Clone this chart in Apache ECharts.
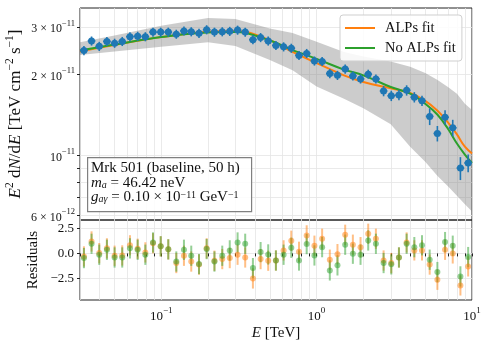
<!DOCTYPE html>
<html>
<head>
<meta charset="utf-8">
<script src="https://cdn.jsdelivr.net/npm/echarts@6/dist/echarts.min.js"></script>
<style>
html,body{margin:0;padding:0;background:#fff;}
#chart{width:489px;height:347px;}
</style>
</head>
<body>
<div id="chart"></div>
<script>
// bin centres [TeV]
var energy = [0.0318,0.0356,0.0399,0.0447,0.0501,0.0561,0.0629,0.0705,0.0790,0.0885,
  0.0992,0.111,0.125,0.140,0.156,0.175,0.196,0.220,0.247,0.276,
  0.310,0.347,0.389,0.436,0.488,0.547,0.613,0.687,0.770,0.863,
  0.968,1.085,1.216,1.362,1.527,1.711,1.917,2.148,2.407,2.698,
  3.023,3.387,3.796,4.254,4.767,5.342,5.986,6.708,7.517,8.423,9.446];
// E^2 dN/dE in units of 1e-11 TeV cm-2 s-1
var flux = [2.46,2.67,2.55,2.66,2.62,2.66,2.77,2.78,2.77,2.88,
  2.88,2.88,2.83,2.91,2.89,2.85,2.94,2.88,2.89,2.90,
  2.93,2.88,2.70,2.75,2.67,2.57,2.54,2.51,2.36,2.40,
  2.25,2.24,2.02,1.99,2.10,1.98,1.93,2.01,1.93,1.74,
  1.67,1.68,1.75,1.65,1.60,1.40,1.21,1.39,1.27,0.90,0.94];
var fluxErr = [0.096,0.104,0.100,0.104,0.102,0.104,0.108,0.108,0.108,0.112,
  0.112,0.112,0.110,0.114,0.113,0.111,0.115,0.112,0.113,0.113,
  0.114,0.112,0.105,0.107,0.104,0.100,0.099,0.098,0.092,0.094,
  0.088,0.087,0.079,0.078,0.082,0.077,0.075,0.078,0.075,0.077,
  0.074,0.074,0.077,0.073,0.071,0.100,0.080,0.086,0.090,0.088,0.071];
var halfBinDex = 0.0247; // half bin width in log10(E)

// fit curves and band
var curveEnergy = [0.03,0.05,0.1,0.2,0.3,0.5,0.7,1,1.5,2,3,4,5,6,7,8,9,10];
var alpsFit   = [2.44,2.58,2.76,2.89,2.91,2.69,2.43,2.21,1.99,1.88,1.78,1.71,1.60,1.47,1.33,1.20,1.08,1.02];
var noAlpsFit = [2.46,2.59,2.76,2.87,2.88,2.68,2.47,2.29,2.09,1.99,1.80,1.70,1.56,1.42,1.26,1.11,1.01,0.94];
var bandUpper = [2.64,2.80,3.04,3.25,3.22,2.97,2.86,2.65,2.43,2.34,2.24,2.14,2.03,1.91,1.80,1.70,1.56,1.48];
var bandLower = [2.37,2.44,2.54,2.64,2.56,2.27,2.08,1.81,1.63,1.50,1.31,1.08,0.95,0.84,0.77,0.71,0.66,0.62];

// residuals
var alpsResid = [-0.3,1.18,0.03,0.5,-0.23,-0.2,0.8,0.46,0.1,1.0,
  0.7,0.4,-0.95,-0.23,-0.8,-1.1,0.5,-0.72,-0.56,-0.46,
  -0.13,-0.4,-2.47,-0.56,-0.72,-0.7,0.3,1.25,0.16,1.78,
  0.76,1.45,-0.62,-0.07,1.84,0.86,0.62,1.94,1.45,-0.7,
  -0.95,-0.4,1.08,0.3,0.3,-1.1,-2.6,0.36,0.0,-3.16,-1.28];
var noAlpsResid = [-0.46,0.95,-0.13,0.36,-0.4,-0.4,0.5,0.36,-0.13,1.08,
  0.7,0.4,-0.8,0.36,-0.23,-1.05,0.43,-0.8,-0.23,0.3,
  1.08,0.95,-1.45,0.13,-0.1,-0.7,-0.13,0.56,-0.7,0.92,
  -0.2,0.62,-1.68,-1.18,0.86,-0.03,-0.13,1.28,0.95,-0.95,
  -1.08,-0.4,0.95,0.62,0.8,-0.62,-1.84,1.12,0.76,-2.27,-0.36];
var residErr = 1;

// ticks
var xGridValues = [0.03,0.04,0.05,0.06,0.07,0.08,0.09,0.1,0.2,0.3,0.4,0.5,0.6,0.7,0.8,0.9,1,2,3,4,5,6,7,8,9,10];
var xLabelValues = [0.1,1,10];
var xLabelExp = ['\u22121','0','1'];
var yGridValues = [0.6,0.7,0.8,0.9,1,2,3];
var yLabelValues = [0.6,1,2,3];
var yLabelMant = ['6 \u00d7 ','','2 \u00d7 ','3 \u00d7 '];
var yLabelExp = ['\u221212','\u221211','\u221211','\u221211'];
var residTicks = [-2.5,0,2.5];

var SERIF = 'Liberation Serif, DejaVu Serif, serif';
var BLUE = '#1f77b4', ORANGE = '#ff7f0e', GREEN = '#2ca02c';

function findIdx(arr, v) {
    for (var i = 0; i < arr.length; i++) {
        if (Math.abs(Math.log10(arr[i]) - Math.log10(v)) < 1e-6) return i;
    }
    return -1;
}

var supRich = {
    b: {fontFamily: SERIF, fontSize: 12, color: '#111', lineHeight: 16, verticalAlign: 'bottom'},
    e: {fontFamily: SERIF, fontSize: 8.5, color: '#111', lineHeight: 16, verticalAlign: 'top'}
};

var blueData = energy.map(function (e, i) {
    return [e, flux[i] - fluxErr[i], flux[i] + fluxErr[i],
        e * Math.pow(10, -halfBinDex), e * Math.pow(10, halfBinDex), flux[i]];
});
function residData(arr) {
    return energy.map(function (e, i) { return [e, arr[i] - residErr, arr[i] + residErr]; });
}

function errorBars(color, width, withX) {
    return function (params, api) {
        var x = api.value(0);
        var p1 = api.coord([x, api.value(1)]);
        var p2 = api.coord([x, api.value(2)]);
        var children = [{
            type: 'line',
            shape: {x1: p1[0], y1: p1[1], x2: p2[0], y2: p2[1]},
            style: {stroke: color, lineWidth: width}
        }];
        if (withX) {
            var q1 = api.coord([api.value(3), api.value(5)]);
            var q2 = api.coord([api.value(4), api.value(5)]);
            children.push({
                type: 'line',
                shape: {x1: q1[0], y1: q1[1], x2: q2[0], y2: q2[1]},
                style: {stroke: color, lineWidth: width}
            });
        }
        return {type: 'group', children: children};
    };
}

var gridLine = {show: true, lineStyle: {color: '#e4e4e4', width: 0.8}};

var chart = echarts.init(document.getElementById('chart'));
chart.setOption({
    animation: false,
    backgroundColor: '#fff',
    grid: [
        {left: 80, top: 8, width: 392, height: 212, show: true, borderColor: '#222', borderWidth: 1, backgroundColor: 'transparent'},
        {left: 80, top: 220, width: 392, height: 80, show: true, borderColor: '#222', borderWidth: 1, backgroundColor: 'transparent'}
    ],
    legend: {
        data: ['ALPs fit', 'No ALPs fit'],
        orient: 'vertical',
        left: 340, top: 15,
        icon: 'rect',
        padding: [5, 6, 5, 5],
        itemWidth: 30, itemHeight: 2, itemGap: 4,
        backgroundColor: 'rgba(255,255,255,0.85)',
        borderColor: '#cfcfcf', borderWidth: 1, borderRadius: 3,
        textStyle: {fontFamily: SERIF, fontSize: 14.5, color: '#111', padding: [0, 0, 0, 5], lineHeight: 16}
    },
    xAxis: [
        {type: 'log', gridIndex: 0, min: 0.03, max: 10,
            axisLine: {show: false},
            axisTick: {show: false, customValues: xGridValues},
            axisLabel: {show: false},
            splitLine: gridLine},
        {type: 'log', gridIndex: 1, min: 0.03, max: 10,
            axisLine: {show: false},
            axisTick: {show: true, inside: false, length: 3, customValues: xGridValues, lineStyle: {color: '#222'}},
            axisLabel: {show: true, margin: 6, customValues: xLabelValues,
                formatter: function (v) {
                    var i = findIdx(xLabelValues, v);
                    return i < 0 ? '' : '{b|10}{e|' + xLabelExp[i] + '}';
                },
                rich: {
                    b: {fontFamily: SERIF, fontSize: 13, color: '#111', lineHeight: 17, verticalAlign: 'bottom'},
                    e: {fontFamily: SERIF, fontSize: 9, color: '#111', lineHeight: 17, verticalAlign: 'top'}
                }},
            splitLine: gridLine}
    ],
    yAxis: [
        {type: 'log', gridIndex: 0, min: 0.577, max: 3.54,
            axisLine: {show: false},
            axisTick: {show: true, length: 3, customValues: yGridValues, lineStyle: {color: '#222'}},
            axisLabel: {show: true, margin: 5, customValues: yLabelValues,
                formatter: function (v) {
                    var i = findIdx(yLabelValues, v);
                    return i < 0 ? '' : '{b|' + yLabelMant[i] + '10}{e|' + yLabelExp[i] + '}';
                },
                rich: supRich},
            splitLine: gridLine},
        {type: 'value', gridIndex: 1, min: -4.6, max: 3.3,
            axisLine: {show: false},
            axisTick: {show: true, length: 3, customValues: residTicks, lineStyle: {color: '#222'}},
            axisLabel: {show: true, margin: 6, customValues: residTicks, fontFamily: SERIF, fontSize: 13, color: '#111',
                formatter: function (v) {
                    return (v < 0 ? '\u2212' : '') + Math.abs(v).toFixed(1);
                }},
            splitLine: gridLine}
    ],
    series: [
        {
            type: 'custom', xAxisIndex: 0, yAxisIndex: 0, silent: true, z: 1,
            data: curveEnergy.map(function (e, i) { return [e, bandLower[i], bandUpper[i]]; }),
            encode: {x: 0, y: [1, 2]},
            renderItem: function (params, api) {
                if (params.dataIndex !== 0) return null;
                var pts = [];
                for (var i = 0; i < curveEnergy.length; i++) pts.push(api.coord([curveEnergy[i], bandUpper[i]]));
                for (var j = curveEnergy.length - 1; j >= 0; j--) pts.push(api.coord([curveEnergy[j], bandLower[j]]));
                return {type: 'polygon', shape: {points: pts, smooth: 0}, style: {fill: 'rgba(128,128,128,0.4)'}};
            }
        },
        {
            name: 'ALPs fit', type: 'line', xAxisIndex: 0, yAxisIndex: 0, z: 3,
            data: curveEnergy.map(function (e, i) { return [e, alpsFit[i]]; }),
            smooth: 0.4, showSymbol: false, symbol: 'none',
            lineStyle: {color: ORANGE, width: 2}, itemStyle: {color: ORANGE}
        },
        {
            name: 'No ALPs fit', type: 'line', xAxisIndex: 0, yAxisIndex: 0, z: 3,
            data: curveEnergy.map(function (e, i) { return [e, noAlpsFit[i]]; }),
            smooth: 0.4, showSymbol: false, symbol: 'none',
            lineStyle: {color: GREEN, width: 2}, itemStyle: {color: GREEN}
        },
        {
            type: 'custom', xAxisIndex: 0, yAxisIndex: 0, silent: true, z: 4,
            data: blueData, encode: {x: 0, y: [1, 2]},
            renderItem: errorBars(BLUE, 1.6, true)
        },
        {
            type: 'scatter', xAxisIndex: 0, yAxisIndex: 0, z: 5, silent: true,
            data: energy.map(function (e, i) { return [e, flux[i]]; }),
            symbolSize: 7, itemStyle: {color: BLUE, opacity: 1}
        },
        {
            type: 'custom', xAxisIndex: 1, yAxisIndex: 1, silent: true, z: 4,
            data: residData(alpsResid), encode: {x: 0, y: [1, 2]},
            renderItem: errorBars('rgba(255,127,14,0.5)', 2, false)
        },
        {
            type: 'scatter', xAxisIndex: 1, yAxisIndex: 1, z: 5, silent: true,
            data: energy.map(function (e, i) { return [e, alpsResid[i]]; }),
            symbolSize: 6, itemStyle: {color: ORANGE, opacity: 0.5}
        },
        {
            type: 'custom', xAxisIndex: 1, yAxisIndex: 1, silent: true, z: 4,
            data: residData(noAlpsResid), encode: {x: 0, y: [1, 2]},
            renderItem: errorBars('rgba(44,160,44,0.5)', 2, false)
        },
        {
            type: 'scatter', xAxisIndex: 1, yAxisIndex: 1, z: 5, silent: true,
            data: energy.map(function (e, i) { return [e, noAlpsResid[i]]; }),
            symbolSize: 6, itemStyle: {color: GREEN, opacity: 0.5}
        }
    ],
    graphic: [
        {
            type: 'rect', left: 87, top: 157, z: 20,
            shape: {width: 164, height: 54},
            style: {fill: 'rgba(255,255,255,0.85)', stroke: '#808080', lineWidth: 1.2}
        },
        {
            type: 'text', left: 91, top: 161, z: 21,
            style: {
                text: '{r|Mrk 501 (baseline, 50 h)}\n{i|m}{sub|a}{r| = 46.42 neV}\n{i|g}{sub|a\u03b3}{r| = 0.10 \u00d7 10}{sup|\u221211}{r| GeV}{sup|\u22121}',
                rich: {
                    r: {fontFamily: SERIF, fontSize: 15, fill: '#111', lineHeight: 14.5},
                    i: {fontFamily: SERIF, fontStyle: 'italic', fontSize: 15, fill: '#111', lineHeight: 14.5},
                    sub: {fontFamily: SERIF, fontStyle: 'italic', fontSize: 10, fill: '#111', lineHeight: 14.5, verticalAlign: 'bottom'},
                    sup: {fontFamily: SERIF, fontSize: 10, fill: '#111', lineHeight: 14.5, verticalAlign: 'top'}
                }
            }
        },
        {
            type: 'text', x: 14, y: 114, rotation: Math.PI / 2,
            style: {
                text: '{i|E}{sup|2}{r| d}{i|N}{r|/d}{i|E}{r| [TeV cm}{sup|\u22122}{r| s}{sup|\u22121}{r|]}',
                align: 'center', verticalAlign: 'middle',
                rich: {
                    r: {fontFamily: SERIF, fontSize: 17, fill: '#111', lineHeight: 20, verticalAlign: 'bottom'},
                    i: {fontFamily: SERIF, fontStyle: 'italic', fontSize: 17, fill: '#111', lineHeight: 20, verticalAlign: 'bottom'},
                    sup: {fontFamily: SERIF, fontSize: 11.5, fill: '#111', lineHeight: 20, verticalAlign: 'top'}
                }
            }
        },
        {
            type: 'text', x: 33, y: 260, rotation: Math.PI / 2,
            style: {text: 'Residuals', align: 'center', verticalAlign: 'middle',
                font: '15px ' + SERIF, fill: '#111'}
        },
        {
            type: 'text', x: 276, y: 333,
            style: {
                text: '{i|E}{r| [TeV]}', align: 'center', verticalAlign: 'middle',
                rich: {
                    r: {fontFamily: SERIF, fontSize: 15, fill: '#111'},
                    i: {fontFamily: SERIF, fontStyle: 'italic', fontSize: 15, fill: '#111'}
                }
            }
        }
    ]
});
</script>
</body>
</html>
